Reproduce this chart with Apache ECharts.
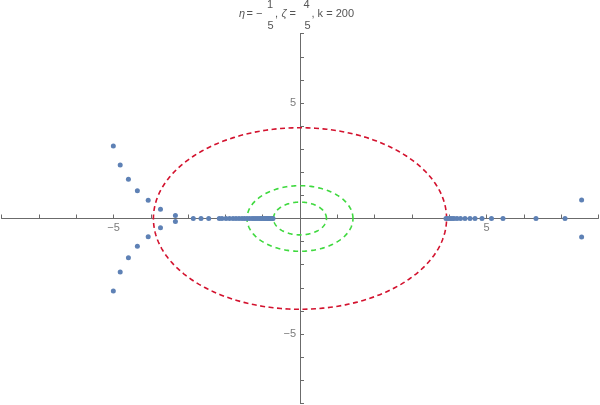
<!DOCTYPE html>
<html>
<head>
<meta charset="utf-8">
<script src="https://cdn.jsdelivr.net/npm/echarts@6/dist/echarts.min.js"></script>
<style>html,body{margin:0;padding:0;background:#fff}#c{width:600px;height:405px}</style>
</head>
<body>
<div id="c"></div>
<script>
// complex-conjugate pairs (x, |y|)
const leftPairX = [-5.005, -4.82, -4.60, -4.36, -4.07, -3.74, -3.34];
const leftPairY = [3.14, 2.32, 1.70, 1.20, 0.79, 0.40, 0.13];
const rightPairX = [7.55];
const rightPairY = [0.80];
// real points
const realLeft = [-2.861, -2.654, -2.448, -2.164, -2.091, -1.984, -1.890, -1.796, -1.716, -1.635,
  -1.555, -1.488, -1.421, -1.354, -1.287, -1.233, -1.180, -1.126, -1.072, -1.032, -0.992,
  -0.952, -0.912, -0.885, -0.858, -0.831, -0.804, -0.777, -0.751, -0.724];
const realRight = [3.914, 3.968, 4.021, 4.075, 4.129, 4.209, 4.303, 4.424, 4.558, 4.692,
  4.879, 5.134, 5.442, 6.327, 7.105];
// circle radii
const redRadii = [3.93];
const greenRadii = [1.42, 0.71];
// tick labels
const xTickVals = [-5, 5];
const xTickText = ['\u22125', '5'];
const yTickVals = [-5, 5];
const yTickText = ['\u22125', '5'];

const points = [];
leftPairX.forEach((x, i) => { points.push([x, leftPairY[i]]); points.push([x, -leftPairY[i]]); });
rightPairX.forEach((x, i) => { points.push([x, rightPairY[i]]); points.push([x, -rightPairY[i]]); });
realLeft.forEach(x => points.push([x, 0]));
realRight.forEach(x => points.push([x, 0]));

function circleSeries(radii, color, dash) {
  return {
    type: 'custom',
    data: radii.map(r => [r]),
    silent: true,
    z: 1,
    renderItem: function (params, api) {
      const r = api.value(0);
      const pts = [];
      const n = 240;
      for (let k = 0; k <= n; k++) {
        const t = 2 * Math.PI * k / n;
        pts.push(api.coord([r * Math.cos(t), r * Math.sin(t)]));
      }
      return {
        type: 'polyline',
        shape: { points: pts },
        style: { stroke: color, lineWidth: 1.6, lineDash: dash, fill: 'none' }
      };
    }
  };
}

const FONT = 'Liberation Sans, Arial, sans-serif';
const axisCommon = {
  type: 'value', min: -8, max: 8, interval: 1,
  splitLine: { show: false },
  axisLine: { onZero: true, lineStyle: { color: '#6b6b6b', width: 1 } },
  axisTick: { inside: true, length: 4, lineStyle: { color: '#6b6b6b' } },
  axisLabel: { show: false }
};

function labelSeries(data, pos, offset) {
  return {
    type: 'scatter', data: data, symbolSize: 0, silent: true, z: 4,
    label: {
      show: true, position: pos, offset: offset, color: '#5a5a5a', fontSize: 11, fontFamily: FONT,
      formatter: p => p.data[2]
    }
  };
}

const chart = echarts.init(document.getElementById('c'));
const ts = (extra) => Object.assign({ fill: '#555', fontSize: 11, fontFamily: FONT, verticalAlign: 'top', align: 'left' }, extra);
const ROW = 8.5, NUM = -0.8, DEN = 20.5;
chart.setOption({
  animation: false,
  grid: { left: 1.6, right: 1.6, top: 33.7, bottom: 1.7, containLabel: false, outerBoundsMode: 'none' },
  xAxis: axisCommon,
  yAxis: axisCommon,
  graphic: [
    { type: 'text', x: 239, y: ROW, style: ts({ text: '\u03b7', fontStyle: 'italic' }) },
    { type: 'text', x: 246.5, y: ROW, style: ts({ text: '= \u2212' }) },
    { type: 'text', x: 270, y: NUM, style: ts({ text: '1', align: 'center' }) },
    { type: 'text', x: 270.5, y: DEN, style: ts({ text: '5', align: 'center' }) },
    { type: 'text', x: 275, y: ROW, style: ts({ text: ',' }) },
    { type: 'text', x: 281.5, y: ROW, style: ts({ text: '\u03b6', fontStyle: 'italic' }) },
    { type: 'text', x: 289.5, y: ROW, style: ts({ text: '=' }) },
    { type: 'text', x: 306.5, y: NUM, style: ts({ text: '4', align: 'center' }) },
    { type: 'text', x: 307.5, y: DEN, style: ts({ text: '5', align: 'center' }) },
    { type: 'text', x: 311.5, y: ROW, style: ts({ text: ', k = 200' }) }
  ],
  series: [
    circleSeries(redRadii, '#d3122e', [5, 3.5]),
    circleSeries(greenRadii, '#3fd93f', [5, 4]),
    {
      type: 'scatter', data: points, symbol: 'circle', symbolSize: 5, z: 3,
      itemStyle: { color: '#5e81b5', opacity: 1 }
    },
    labelSeries(xTickVals.map((v, i) => [v, 0, xTickText[i]]), 'bottom', [0, -1]),
    labelSeries(yTickVals.map((v, i) => [0, v, yTickText[i]]), 'left', [1, 0])
  ]
});
</script>
</body>
</html>
